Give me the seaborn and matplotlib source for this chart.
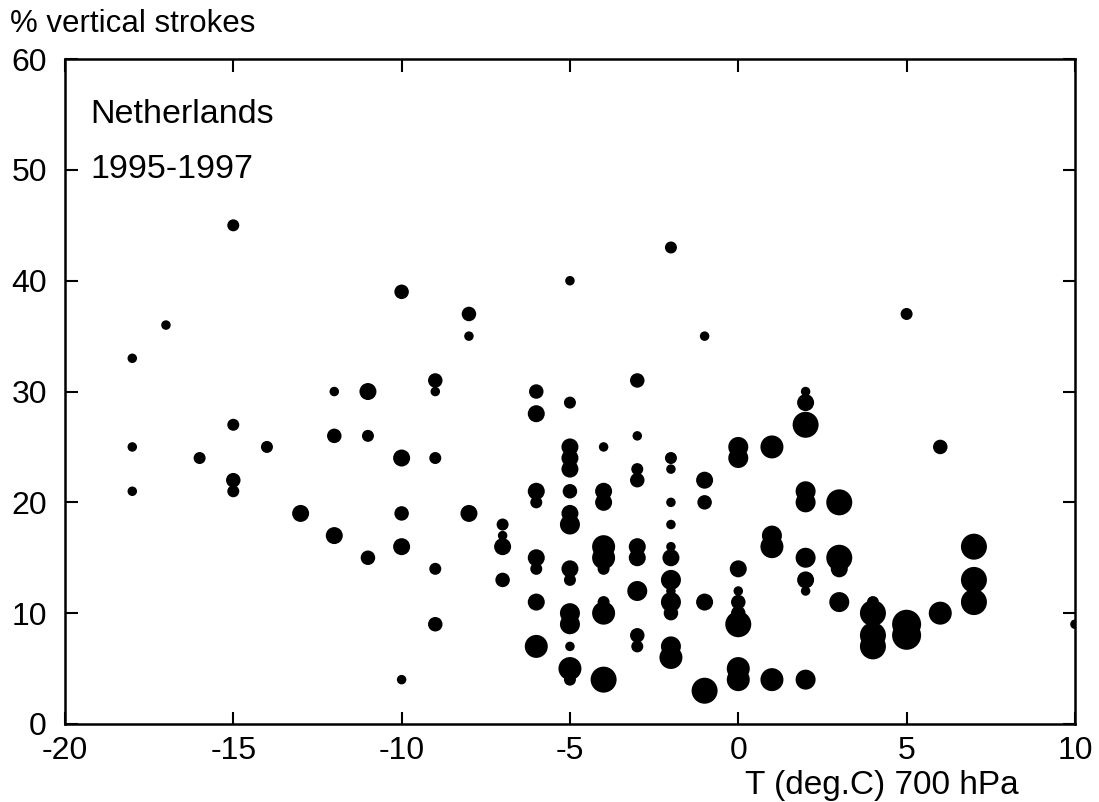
import seaborn as sns
import matplotlib.pyplot as plt
import pandas as pd

# temperature at 700 hPa (deg C), % vertical strokes, relative dot size class
temp = ([-18] * 3 + [-17] + [-16] + [-15] * 4 + [-14] + [-13] + [-12] * 3 + [-11] * 3
        + [-10] * 5 + [-9] * 5 + [-8] * 3 + [-7] * 4 + [-6] * 8 + [-5] * 15 + [-4] * 9
        + [-3] * 9 + [-2] * 13 + [-1] * 5 + [0] * 9 + [1] * 4 + [2] * 9 + [3] * 4
        + [4] * 4 + [5] * 3 + [6] * 2 + [7] * 3 + [10])
pct = [33, 25, 21,
       36,
       24,
       45, 27, 22, 21,
       25,
       19,
       30, 26, 17,
       30, 26, 15,
       39, 24, 19, 16, 4,
       31, 30, 24, 14, 9,
       37, 35, 19,
       18, 17, 16, 13,
       30, 28, 21, 20, 15, 14, 11, 7,
       40, 29, 25, 24, 23, 21, 19, 18, 14, 13, 10, 9, 7, 5, 4,
       25, 21, 20, 16, 15, 14, 11, 10, 4,
       31, 26, 23, 22, 16, 15, 12, 8, 7,
       43, 24, 23, 20, 18, 16, 15, 13, 12, 11, 10, 7, 6,
       35, 22, 20, 11, 3,
       25, 24, 14, 12, 11, 10, 9, 5, 4,
       25, 17, 16, 4,
       30, 29, 27, 21, 20, 15, 13, 12, 4,
       20, 15, 14, 11,
       11, 10, 8, 7,
       37, 9, 8,
       25, 10,
       16, 13, 11,
       9]
count = [1, 1, 1,
         1,
         2,
         2, 2, 3, 2,
         2,
         4,
         1, 3, 4,
         4, 2, 3,
         3, 4, 3, 4, 1,
         3, 1, 2, 2, 3,
         3, 1, 4,
         2, 1, 4, 3,
         3, 4, 4, 2, 4, 2, 4, 6,
         1, 2, 4, 4, 4, 3, 4, 5, 4, 2, 5, 5, 1, 6, 2,
         1, 4, 4, 6, 6, 2, 2, 6, 7,
         3, 1, 2, 3, 4, 4, 5, 3, 2,
         2, 2, 1, 1, 1, 1, 4, 5, 1, 5, 3, 5, 6,
         1, 4, 3, 4, 7,
         5, 5, 4, 1, 3, 3, 7, 6, 6,
         6, 5, 6, 6,
         1, 4, 7, 5, 5, 5, 4, 1, 5,
         7, 7, 4, 5,
         2, 7, 7, 7,
         2, 8, 8,
         3, 6,
         7, 7, 7,
         1]

x_ticks = [-20, -15, -10, -5, 0, 5, 10]
y_ticks = [0, 10, 20, 30, 40, 50, 60]

df = pd.DataFrame({"T": temp, "pct": pct, "n": count})

sns.set_style("ticks")
plt.rcParams["font.family"] = ["Liberation Sans", "DejaVu Sans"]
plt.rcParams["axes.unicode_minus"] = False
plt.rcParams["text.color"] = "black"

# dot diameters in px -> marker area in pt^2
diam = {1: 9.5, 2: 12, 3: 14.5, 4: 17, 5: 20, 6: 23, 7: 26, 8: 29}
sizes = {k: (d * 0.72) ** 2 for k, d in diam.items()}

fig = plt.figure(figsize=(10.99, 8.02), dpi=100)
ax = fig.add_axes([0.0591, 0.0973, 0.919, 0.829])

sns.scatterplot(data=df, x="T", y="pct", size="n", sizes=sizes, color="black",
                edgecolor="none", linewidth=0, legend=False, ax=ax)

ax.set_xlim(-20, 10)
ax.set_ylim(0, 60)
ax.set_xticks(x_ticks)
ax.set_yticks(y_ticks)
ax.tick_params(direction="in", top=True, right=True, length=9, width=1.5,
               labelsize=23, colors="black")
ax.tick_params(axis="x", pad=9)
ax.tick_params(axis="y", pad=13)
for sp in ax.spines.values():
    sp.set_linewidth(1.8)
    sp.set_color("black")

ax.set_ylabel("")
ax.set_xlabel("T (deg.C) 700 hPa", fontsize=24, color="black")
ax.xaxis.set_label_coords(0.809, -0.069)

fig.text(0.009, 1 - 32 / 802, "% vertical strokes", fontsize=22.5, va="baseline")
ax.text(0.025, 0.904, "Netherlands", fontsize=24.5, transform=ax.transAxes, va="baseline")
ax.text(0.025, 0.821, "1995-1997", fontsize=24.5, transform=ax.transAxes, va="baseline")

fig.savefig("out.png", dpi=100, facecolor="white")
